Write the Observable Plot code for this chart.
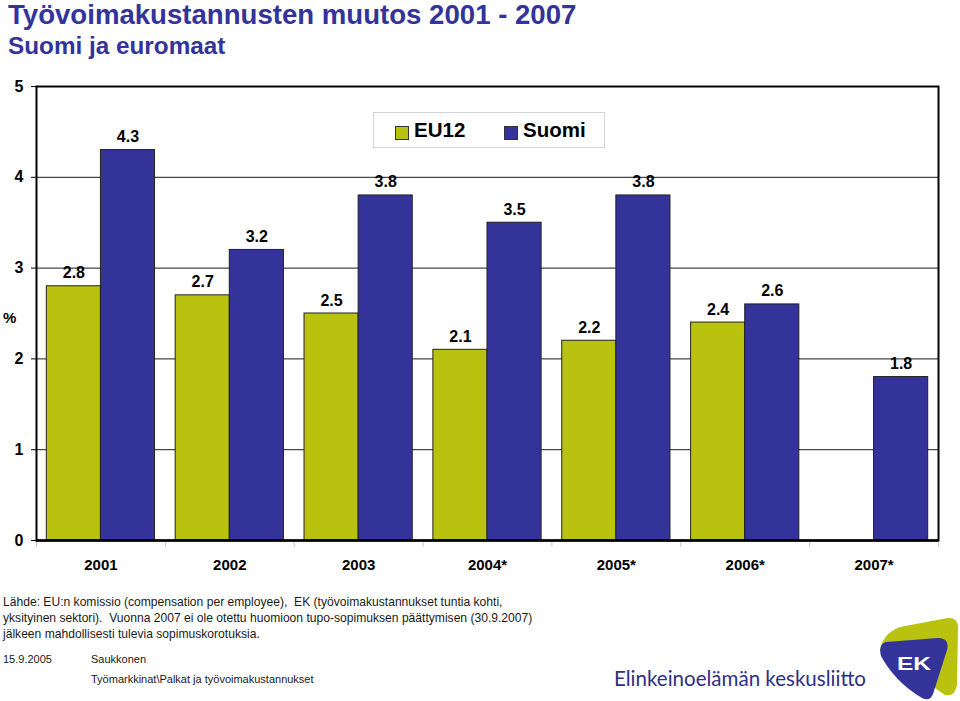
<!DOCTYPE html>
<html><head><meta charset="utf-8">
<script src="https://cdn.jsdelivr.net/npm/d3@7"></script>
<script src="https://cdn.jsdelivr.net/npm/@observablehq/plot@0.6"></script>
<style>
body{margin:0;background:#fff;font-family:Arial,"Liberation Sans",sans-serif;}
#wrap{position:relative;width:960px;height:701px;overflow:hidden;}
.abs{position:absolute;white-space:nowrap;}
#chart{position:absolute;left:0;top:0;}
</style></head><body>
<div id="wrap">
  <div id="chart"></div>
  <div class="abs" style="left:8px;top:1px;font-size:27.6px;line-height:27.6px;font-weight:bold;color:#333399">Työvoimakustannusten muutos 2001 - 2007</div>
  <div class="abs" style="left:8px;top:34px;font-size:24.3px;line-height:24.3px;font-weight:bold;color:#333399">Suomi ja euromaat</div>
  <div class="abs" style="left:3px;top:310px;font-size:15px;line-height:15px;font-weight:bold;color:#000">%</div>
  <div id="legend" class="abs" style="left:373px;top:112px;width:230px;height:34px;border:1px solid #d4d4d4;background:#fff;"></div>
  <div class="abs" style="left:3px;top:594px;font-size:12.1px;line-height:16px;color:#1a1a1a;white-space:normal;width:600px">Lähde: EU:n komissio (compensation per employee),&nbsp; EK (työvoimakustannukset tuntia kohti,<br>yksityinen sektori).&nbsp; Vuonna 2007 ei ole otettu huomioon tupo-sopimuksen päättymisen (30.9.2007)<br>jälkeen mahdollisesti tulevia sopimuskorotuksia.</div>
  <div class="abs" style="left:3px;top:653px;font-size:11px;line-height:12px;color:#1a1a1a">15.9.2005</div>
  <div class="abs" style="left:91px;top:653px;font-size:11px;line-height:12px;color:#1a1a1a">Saukkonen</div>
  <div class="abs" style="left:91px;top:673px;font-size:11px;line-height:12px;color:#1a1a1a">Työmarkkinat\Palkat ja työvoimakustannukset</div>
  <svg class="abs" style="left:0;top:600px" width="960" height="101">
    <text x="614" y="86" font-family="Lato, 'Open Sans', sans-serif" font-size="21" fill="#2e2f86" textLength="252" lengthAdjust="spacingAndGlyphs">Elinkeinoelämän keskusliitto</text>
    <path d="M880 50 Q 884 30 905 26 L 948 18 Q 958 17 958 28 L 957 85 Q 955 97 945 95 Z" fill="#b9c20f"/>
    <path d="M886 42 Q 878 44 881 56 Q 895 82 922 98 Q 930 102 933 94 L 947 50 Q 950 38 938 38 Z" fill="#333399"/>
    <text x="914" y="70" font-family="Arial, 'Liberation Sans', sans-serif" font-weight="bold" font-size="19" fill="#fff" text-anchor="middle" textLength="34" lengthAdjust="spacingAndGlyphs">EK</text>
  </svg>
</div>
<script>
const years = ["2001", "2002", "2003", "2004*", "2005*", "2006*", "2007*"];
const series = ["EU12", "Suomi"];
const eu12 = [2.8, 2.7, 2.5, 2.1, 2.2, 2.4, null];
const suomi = [4.3, 3.2, 3.8, 3.5, 3.8, 2.6, 1.8];
const colors = ["#b9c20f", "#333399"];
const yTicks = [0, 1, 2, 3, 4, 5];

const W = 960, H = 580, mL = 36, mR = 22, mT = 86, mB = 40;
const pIn = 0.16, pOut = 0.08;
const step = (W - mL - mR) / (years.length - pIn + 2 * pOut);
const bw = step * (1 - pIn);
const half = bw / 2;

const euRows = years.map((year, i) => ({year, value: eu12[i]})).filter(d => d.value != null);
const fiRows = years.map((year, i) => ({year, value: suomi[i]})).filter(d => d.value != null);
const fmt = d3.format(".1f");
const font = "Arial, 'Liberation Sans', sans-serif";

const plot = Plot.plot({
  width: W, height: H,
  marginTop: mT, marginBottom: mB, marginLeft: mL, marginRight: mR,
  style: {fontFamily: font, fontSize: "16px", fontWeight: "bold", color: "#000", background: "transparent"},
  x: {domain: years, paddingInner: pIn, paddingOuter: pOut, round: false},
  y: {domain: [0, 5]},
  marks: [
    Plot.ruleY(yTicks.slice(1, -1), {stroke: "#000", strokeWidth: 1, strokeOpacity: 0.9}),
    Plot.barY(euRows, {x: "year", y: "value", fill: colors[0], stroke: "#222", strokeWidth: 1, insetRight: half}),
    Plot.barY(fiRows, {x: "year", y: "value", fill: colors[1], stroke: "#222", strokeWidth: 1, insetLeft: half}),
    Plot.text(euRows, {x: "year", y: "value", text: d => fmt(d.value), dx: -half / 2, dy: -8, lineAnchor: "bottom", fontSize: 16, fill: "#000"}),
    Plot.text(fiRows, {x: "year", y: "value", text: d => fmt(d.value), dx: half / 2, dy: -8, lineAnchor: "bottom", fontSize: 16, fill: "#000"}),
    Plot.ruleX(years, {x: d => d, dx: -step / 2, y1: 0, y2: 0, insetBottom: -7, stroke: "#c8c8c8"}),
    Plot.ruleX(years.slice(-1), {x: d => d, dx: step / 2, y1: 0, y2: 0, insetBottom: -7, stroke: "#c8c8c8"}),
    Plot.frame({stroke: "#000", strokeWidth: 2}),
    Plot.ruleY([0], {stroke: "#000", strokeWidth: 2.5}),
    Plot.axisY({ticks: yTicks, tickSize: 5, tickPadding: 8, label: null, tickFormat: d3.format("d"), fontSize: 16}),
    Plot.axisX({tickSize: 0, tickPadding: 19, label: null, fontSize: 15})
  ]
});
document.getElementById("chart").append(plot);

// legend
const legend = d3.select("#legend");
const items = [{name: series[0], color: colors[0], left: 21, tl: 40}, {name: series[1], color: colors[1], left: 130, tl: 149}];
items.forEach(it => {
  legend.append("div").style("position", "absolute").style("left", it.left + "px").style("top", "13px")
    .style("width", "12px").style("height", "12px").style("background", it.color).style("border", "1px solid #333");
  legend.append("div").style("position", "absolute").style("left", it.tl + "px").style("top", "7px")
    .style("font-size", "20.5px").style("line-height", "20.5px").style("font-weight", "bold").style("color", "#000")
    .text(it.name);
});
</script>
</body></html>
